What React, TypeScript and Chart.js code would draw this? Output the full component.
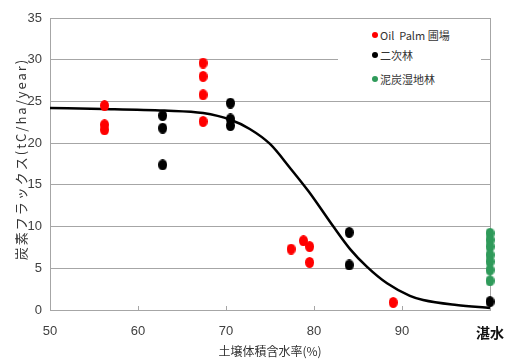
import { useEffect, useRef } from 'react';
import { Chart, registerables } from 'chart.js';

Chart.register(...registerables);

// ---- data ----
const xTickValues = [50, 60, 70, 80, 90, 100];
const xTickLabels = ['50', '60', '70', '80', '90', '湛水'];

const oilPalmX = [56.2, 56.2, 56.2, 67.4, 67.4, 67.4, 67.4, 77.4, 78.8, 79.5, 79.5, 89.0];
const oilPalmY = [24.5, 22.2, 21.6, 29.6, 28.0, 25.8, 22.6, 7.3, 8.3, 7.6, 5.7, 0.9];

const secondaryX = [62.8, 62.8, 62.8, 70.5, 70.5, 70.5, 84.0, 84.0, 100];
const secondaryY = [23.3, 21.8, 17.4, 24.8, 22.9, 22.1, 9.3, 5.4, 1.0];

const peatX = [100, 100, 100, 100, 100, 100, 100];
const peatY = [9.2, 8.4, 7.6, 6.6, 5.8, 4.8, 3.5];

const curveX = [50, 56, 63, 67.4, 70.5, 72.7, 75, 77.3, 79.4, 82.2, 84.1, 86, 88.3, 90.9, 92.4, 96.2, 100];
const curveY = [24.2, 24.1, 23.9, 23.6, 22.8, 21.7, 19.9, 17.0, 14.2, 10.0, 7.3, 5.2, 3.2, 1.7, 1.2, 0.6, 0.25];

const legendLabels = ['Oil  Palm 圃場', '二次林', '泥炭湿地林'];
const seriesColors = ['#ff0000', '#000000', '#2f9a5a'];

const xTitle = '土壌体積含水率(%)';
const yTitle = '炭素フラックス(tC/ha/year)';

const GRID = '#a6a6a6';

function makeDot(color: string, w: number, h: number) {
  const c = document.createElement('canvas');
  c.width = w;
  c.height = h;
  const g = c.getContext('2d')!;
  g.fillStyle = color;
  g.beginPath();
  g.ellipse(w / 2, h / 2, w / 2, h / 2, 0, 0, Math.PI * 2);
  g.fill();
  return c;
}

const zip = (xs: number[], ys: number[]) => xs.map((x, i) => ({ x, y: ys[i] }));

const decor = {
  id: 'decor',
  beforeDatasetsDraw(chart: any) {
    const { ctx, chartArea: a, scales } = chart;
    const x = scales.x;
    ctx.save();
    ctx.strokeStyle = GRID;
    ctx.lineWidth = 1;
    ctx.beginPath();
    ctx.moveTo(Math.round(a.right) + 0.5, a.top);
    ctx.lineTo(Math.round(a.right) + 0.5, a.bottom);
    x.ticks.forEach((t: any) => {
      if (t.value > 50 && t.value < 100) {
        const px = Math.round(x.getPixelForValue(t.value)) + 0.5;
        ctx.moveTo(px, a.bottom);
        ctx.lineTo(px, a.bottom - 4);
      }
    });
    ctx.stroke();
    ctx.restore();
  },
  afterDraw(chart: any) {
    const { ctx, chartArea: a } = chart;
    ctx.save();
    ctx.translate(21, (a.top + a.bottom) / 2 - 5);
    ctx.rotate(-Math.PI / 2);
    ctx.font = '13px "Noto Sans CJK JP", "Liberation Sans", sans-serif';
    (ctx as any).letterSpacing = '2px';
    ctx.fillStyle = '#333333';
    ctx.textAlign = 'center';
    ctx.textBaseline = 'middle';
    ctx.fillText(yTitle, 0, 0);
    ctx.restore();
  },
};

export default function App() {
  const ref = useRef<HTMLCanvasElement | null>(null);

  useEffect(() => {
    if (!ref.current) return;
    const dotW = 9;
    const dotH = 11;
    const chart = new Chart(ref.current, {
      type: 'scatter',
      data: {
        datasets: [
          {
            label: legendLabels[0],
            data: zip(oilPalmX, oilPalmY),
            pointStyle: makeDot(seriesColors[0], dotW, dotH) as any,
            backgroundColor: seriesColors[0],
            clip: false as any,
          },
          {
            label: legendLabels[1],
            data: zip(secondaryX, secondaryY),
            pointStyle: makeDot(seriesColors[1], dotW, dotH) as any,
            backgroundColor: seriesColors[1],
            clip: false as any,
          },
          {
            label: legendLabels[2],
            data: zip(peatX, peatY),
            pointStyle: makeDot(seriesColors[2], dotW, dotH) as any,
            backgroundColor: seriesColors[2],
            clip: false as any,
          },
          {
            type: 'line' as any,
            label: 'fit',
            data: zip(curveX, curveY),
            showLine: true,
            borderColor: '#000000',
            borderWidth: 2.5,
            pointRadius: 0,
            cubicInterpolationMode: 'monotone',
            fill: false,
            clip: false as any,
          } as any,
        ],
      },
      options: {
        animation: false,
        responsive: false,
        maintainAspectRatio: false,
        layout: { padding: { left: 0, right: 15, top: 18, bottom: 0 } },
        plugins: {
          legend: { display: false },
          tooltip: { enabled: false },
        },
        scales: {
          x: {
            type: 'linear',
            min: 50,
            max: 100,
            afterBuildTicks: (scale: any) => {
              scale.ticks = xTickValues.map((v) => ({ value: v }));
            },
            afterFit: (scale: any) => {
              scale.height = 50;
            },
            grid: {
              display: true,
              drawOnChartArea: false,
              drawTicks: true,
              tickLength: 14,
              color: 'rgba(0,0,0,0)',
            },
            border: { display: true, color: GRID, width: 1 },
            ticks: {
              padding: 0,
              maxRotation: 0,
              autoSkip: false,
              callback: (_v: any, i: number) => xTickLabels[i],
              color: (c: any) => (c.index === 5 ? '#111111' : '#404040'),
              font: (c: any) =>
                c.index === 5
                  ? { size: 14, weight: 'bold', family: '"Noto Sans CJK JP", sans-serif' }
                  : { size: 13, family: '"Liberation Sans", Arial, sans-serif' },
            },
            title: {
              display: true,
              text: xTitle,
              color: '#333333',
              font: { size: 12, family: '"Noto Sans CJK JP", sans-serif' },
              padding: { top: 0, bottom: 1 },
            },
          },
          y: {
            min: 0,
            max: 35,
            afterFit: (scale: any) => {
              scale.width = 50;
            },
            grid: { color: GRID, lineWidth: 1, drawTicks: false },
            border: { display: true, color: GRID, width: 1 },
            ticks: {
              stepSize: 5,
              padding: 8,
              color: '#404040',
              font: { size: 13, family: '"Liberation Sans", Arial, sans-serif' },
            },
          },
        },
      },
      plugins: [decor],
    });
    return () => chart.destroy();
  }, []);

  const legendTop = [35, 55, 79];

  return (
    <div style={{ position: 'fixed', left: 0, top: 0, width: 505, height: 360, background: '#ffffff' }}>
      <canvas ref={ref} width={505} height={360} style={{ display: 'block', width: 505, height: 360 }} />
      <div
        style={{
          position: 'absolute',
          left: 338,
          top: 20,
          width: 143,
          height: 75,
          background: '#ffffff',
        }}
      >
        {legendLabels.map((lab, i) => (
          <div key={lab}>
            <div
              style={{
                position: 'absolute',
                left: 375 - 338 - 3,
                top: legendTop[i] - 20 - 3,
                width: 6,
                height: 6,
                borderRadius: '50%',
                background: seriesColors[i],
              }}
            />
            <div
              style={{
                position: 'absolute',
                left: 380 - 338,
                top: legendTop[i] - 20 - 8,
                height: 16,
                lineHeight: '16px',
                fontSize: 11,
                fontFamily: '"Noto Sans CJK JP", "Liberation Sans", sans-serif',
                color: '#333333',
                whiteSpace: 'pre',
              }}
            >
              {lab}
            </div>
          </div>
        ))}
      </div>
    </div>
  );
}
